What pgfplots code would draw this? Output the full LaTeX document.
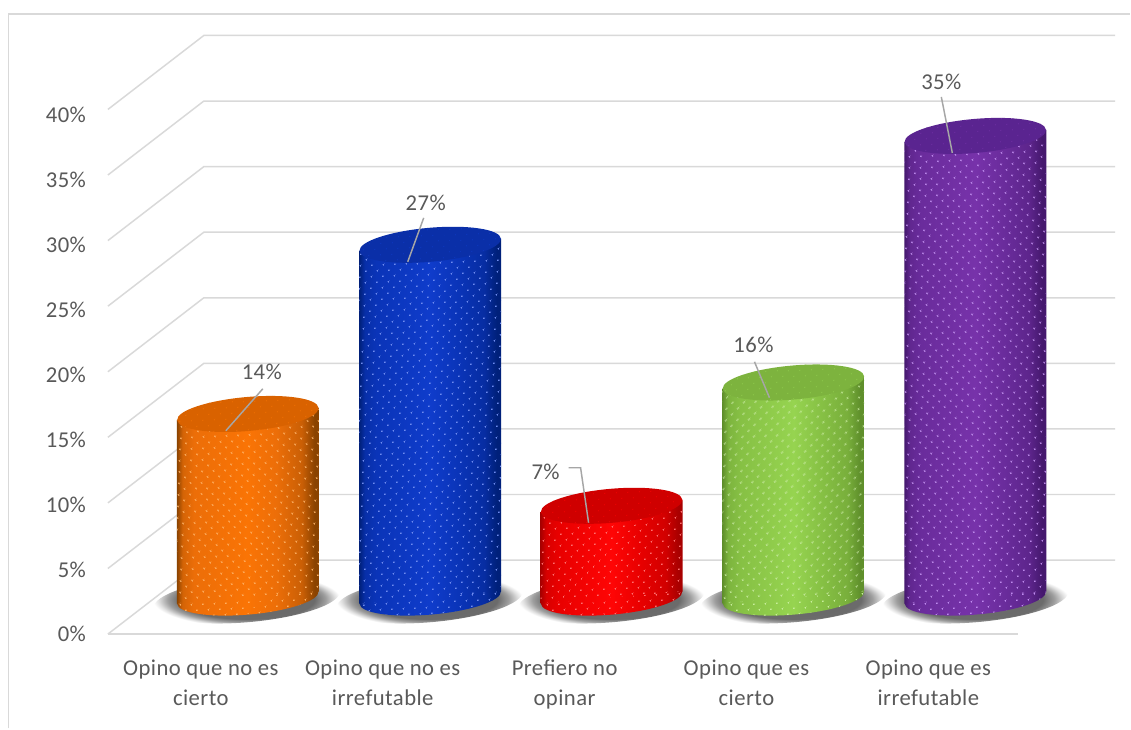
\documentclass[border=0pt]{standalone}
\usepackage{fontspec}
\setmainfont[LetterSpace=2]{Carlito}
\usepackage{pgfplots}
\pgfplotsset{compat=1.18}
\usetikzlibrary{patterns.meta,shapes.geometric}
\definecolor{txt}{HTML}{595959}
\definecolor{gridc}{HTML}{D9D9D9}
\definecolor{leader}{HTML}{A6A6A6}
% in a shading the path's box is the middle 50bp: its edge lies at 25bp from the centre
\pgfdeclareradialshading{cylshadow}{\pgfpoint{0bp}{0bp}}{color(0bp)=(black!60); color(18bp)=(black!58); color(21bp)=(black!38); color(23.5bp)=(black!12); color(25bp)=(white); color(50bp)=(white)}
% colours: edge, mid, bright, top, dot
\newcommand\defcyl[6]{%
  \definecolor{e#1}{HTML}{#2}\definecolor{m#1}{HTML}{#3}\definecolor{b#1}{HTML}{#4}\definecolor{t#1}{HTML}{#5}\definecolor{d#1}{HTML}{#6}%
  \pgfdeclarehorizontalshading{cyl#1}{100bp}{color(0bp)=(e#1); color(25bp)=(e#1); color(27bp)=(m#1!75!e#1); color(31bp)=(m#1); color(50bp)=(b#1); color(60bp)=(m#1); color(69bp)=(m#1!65!e#1); color(73.5bp)=(e#1); color(75bp)=(e#1); color(100bp)=(e#1)}%
}
\defcyl{O}{8A4300}{EC6E08}{FA7405}{D96200}{FFB060}
\defcyl{B}{00207A}{0A34B8}{0F3CCB}{0A2FA8}{6F8CF0}
\defcyl{R}{A80000}{E80000}{FF0505}{CF0000}{FF7070}
\defcyl{G}{5F8F2B}{86C044}{96D450}{7DB33E}{C8EE9C}
\defcyl{P}{45186E}{6A2C9C}{7732AA}{5A2490}{C08CF0}
\tikzset{dotsfill/.style={pattern={Dots[angle=45,distance=6.5pt,radius=#1]}}}
\pgfplotsset{
  common/.style={scale only axis,width=683.25pt,height=393.75pt,xmin=108,xmax=1019,clip=false,at={(0,0)},anchor=south west},
  cyl axis/.style={common,hide axis,ymin=-2.78,ymax=37.22},
  body/.style={no markers,draw=none,shade,shading=cyl#1},
  dots/.style={no markers,draw=none,dotsfill=0.8pt,pattern color=d#1},
  leaderline/.style={no markers,draw=leader,line width=1.1pt},
  ell/.style={only marks,mark=none,nodes near coords={},nodes near coords align=center,
    every node near coord/.style={ellipse,minimum width=106.5pt,minimum height=25.5pt,inner sep=0pt,rotate=5,anchor=center,#1}},
  shadow/.style={only marks,mark=none,nodes near coords={},nodes near coords align=center,
    every node near coord/.style={ellipse,minimum width=140pt,minimum height=34pt,inner sep=0pt,rotate=5,anchor=center,shade,shading=cylshadow}}
}
\newcommand\cylbase[2]{%
  \addplot[ell={shade,shading=cyl#1}] coordinates {(#2,0)};
  \addplot[ell={dotsfill=0.8pt,pattern color=d#1}] coordinates {(#2,0)};
}
\newcommand\cylbody[2]{%
  \addplot[body=#1] coordinates {#2} -- cycle;
  \addplot[dots=#1] coordinates {#2} -- cycle;
}
\newcommand\cyltop[3]{%
  \addplot[ell={fill=t#1}] coordinates {(#2,#3)};
  \addplot[ell={dotsfill=0.55pt,pattern color=b#1!70!t#1}] coordinates {(#2,#3)};
}
\begin{document}
\begin{tikzpicture}
\path[fill=white] (-81pt,-70.875pt) rectangle (767.25pt,475.875pt);
\draw[gridc,line width=1.2pt] (-74.6pt,-70.875pt) -- (-74.6pt,465.4pt) -- (767.25pt,465.4pt);
% axis with categories, tick labels and the perspective gridlines
\begin{axis}[common,ymin=0,ymax=40,
  axis line style={draw=none},tick style={draw=none},
  axis x line*=bottom,axis y line*=left,
  xtick={201,383,565,747,929},
  xticklabels={Opino que no es\\cierto,Opino que no es\\irrefutable,Prefiero no\\opinar,Opino que es\\cierto,Opino que es\\irrefutable},
  xticklabel style={align=center,text=txt,font=\fontsize{17}{22.5}\selectfont,yshift=-16pt},
  ytick={0,4.91,9.87,14.82,19.77,24.72,29.68,34.63,39.58},
  yticklabels={0\%,5\%,10\%,15\%,20\%,25\%,30\%,35\%,40\%},
  yticklabel style={text=txt,font=\fontsize{17}{20}\selectfont,anchor=east,xshift=-13pt},
]
\addplot[no markers,draw=gridc,line width=1.4pt] coordinates {(108,0) (1019,0)};
\pgfplotsset{grid3d/.style={no markers,draw=gridc,line width=1.1pt}}
\addplot[grid3d] coordinates {(108,0) (204,5.64) (1116,5.64)};
\addplot[grid3d] coordinates {(108,5) (204,10.64) (1116,10.64)};
\addplot[grid3d] coordinates {(108,10) (204,15.64) (1116,15.64)};
\addplot[grid3d] coordinates {(108,15) (204,20.64) (1116,20.64)};
\addplot[grid3d] coordinates {(108,20) (204,25.64) (1116,25.64)};
\addplot[grid3d] coordinates {(108,25) (204,30.64) (1116,30.64)};
\addplot[grid3d] coordinates {(108,30) (204,35.64) (1116,35.64)};
\addplot[grid3d] coordinates {(108,35) (204,40.64) (1116,40.64)};
\addplot[grid3d] coordinates {(108,40) (204,45.64) (1116,45.64)};
\end{axis}
% axes whose zero is the level of the cylinder bases; nodes are drawn last in an axis, so each layer has its own
\begin{axis}[cyl axis]
\addplot[shadow] coordinates {(247,-0.15) (430,-0.15) (612,-0.15) (794,-0.15) (976,-0.15)};
\cylbase{O}{248}
\cylbase{B}{430.5}
\cylbase{R}{612}
\cylbase{G}{794}
\cylbase{P}{976}
\end{axis}
\begin{axis}[cyl axis]
\cylbody{O}{(177,13.54) (319,14.46) (319,0.46) (177,-0.46)}
\cylbody{B}{(359.5,26.44) (501.5,27.36) (501.5,0.46) (359.5,-0.46)}
\cylbody{R}{(541,6.54) (683,7.46) (683,0.46) (541,-0.46)}
\cylbody{G}{(723,15.94) (865,16.86) (865,0.46) (723,-0.46)}
\cylbody{P}{(905,34.74) (1047,35.66) (1047,0.46) (905,-0.46)}
\end{axis}
\begin{axis}[cyl axis]
\cyltop{O}{248}{14}
\cyltop{B}{430.5}{26.9}
\cyltop{R}{612}{7}
\cyltop{G}{794}{16.4}
\cyltop{P}{976}{35.2}
\end{axis}
\begin{axis}[cyl axis]
% leader lines
\addplot[leaderline] coordinates {(263,15.92) (226,12.72)};
\addplot[leaderline] coordinates {(424,28.95) (408,25.6)};
\addplot[leaderline] coordinates {(569,9.9) (581,9.9) (589,5.71)};
\addplot[leaderline] coordinates {(755,17.98) (770,15.24)};
\addplot[leaderline] coordinates {(942,38.17) (953,33.9)};
% data labels
\addplot[only marks,mark=none,point meta=explicit symbolic,
  nodes near coords,nodes near coords align=center,
  every node near coord/.style={anchor=center,text=txt,font=\fontsize{17}{20}\selectfont}]
  coordinates {(262,17.22)[14\%] (426,30.1)[27\%] (546,9.6)[7\%] (754,19.28)[16\%] (942,39.31)[35\%]};
\end{axis}
\end{tikzpicture}
\end{document}
